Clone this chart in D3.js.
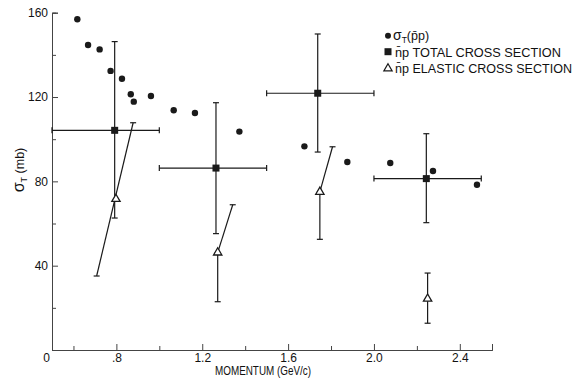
<!DOCTYPE html>
<html>
<head>
<meta charset="utf-8">
<script src="https://cdn.jsdelivr.net/npm/d3@7"></script>
<style>
  body { margin: 0; background: #fff; }
  svg { display: block; }
  text { font-family: "Liberation Sans", Arial, sans-serif; fill: #111; }
</style>
</head>
<body>
<div id="chart"></div>
<script>
// sigma_T (pbar p) points
const circleP = [0.618, 0.668, 0.722, 0.773, 0.826, 0.867, 0.881, 0.961, 1.067, 1.166, 1.373, 1.676, 1.876, 2.076, 2.275, 2.480];
const circleSigma = [156.9, 144.7, 142.6, 132.4, 128.7, 121.3, 117.8, 120.5, 113.7, 112.4, 103.6, 96.6, 89.2, 88.7, 84.9, 78.4];

// nbar p total cross section
const totalP = [0.792, 1.264, 1.738, 2.244];
const totalSigma = [104.2, 86.3, 121.8, 81.3];
const totalLow = [62.6, 55.2, 93.9, 60.4];
const totalHigh = [146.3, 117.3, 149.9, 102.6];
const binLow = [0.5, 1.0, 1.5, 2.0];
const binHigh = [1.0, 1.5, 2.0, 2.5];

// nbar p elastic cross section
const elasticP = [0.798, 1.272, 1.748, 2.25];
const elasticSigma = [71.6, 46.2, 75.0, 24.3];
const elasticLow = [null, 22.9, 52.5, 12.7];
const elasticHigh = [null, 46.2, 75.0, 36.5];
// slanted segments [p1, sigma1, p2, sigma2]
const elasticSlant = [[0.708, 35.1, 0.878, 107.8], [1.272, 46.2, 1.342, 68.9], [1.748, 75.0, 1.807, 96.4], null];

const xMajor = [0.8, 1.2, 1.6, 2.0, 2.4];
const xMajorLabels = [".8", "1.2", "1.6", "2.0", "2.4"];
const xMinor = [0.6, 1.0, 1.4, 1.8, 2.2];
const yMajor = [40, 80, 120, 160];
const yMinor = [20, 60, 100, 140];

const W = 577, H = 381;
const svg = d3.select("#chart").append("svg").attr("width", W).attr("height", H);

const x = d3.scaleLinear().domain([0.5, 2.55]).range([52, 492]);
const y = d3.scaleLinear().domain([0, 160]).range([350, 12.7]);

const ink = "#1a1a1a";

// axes
svg.append("g").attr("transform", `translate(0,${y(0)})`)
  .call(d3.axisBottom(x).tickValues(xMajor).tickSize(-6).tickPadding(3)
    .tickFormat((d, i) => xMajorLabels[i]));
svg.append("g").attr("transform", `translate(0,${y(0)})`)
  .call(d3.axisBottom(x).tickValues(xMinor).tickSize(-4).tickFormat(""));
svg.append("g").attr("transform", `translate(${x(0.5)},0)`)
  .call(d3.axisLeft(y).tickValues(yMajor).tickSize(-6).tickPadding(4));
svg.append("g").attr("transform", `translate(${x(0.5)},0)`)
  .call(d3.axisLeft(y).tickValues(yMinor).tickSize(-4).tickFormat(""));

svg.selectAll(".domain").attr("stroke", "#444").attr("stroke-width", 1);
svg.selectAll(".tick line").attr("stroke", "#444");
svg.selectAll(".tick text").attr("font-size", 12).attr("fill", "#222")
  .attr("font-family", "Liberation Sans, Arial, sans-serif");

// origin label
svg.append("text").attr("x", x(0.5) - 2).attr("y", y(0) + 12)
  .attr("text-anchor", "end").attr("font-size", 12).attr("fill", "#222").text("0");

// axis titles
svg.append("text").attr("x", 215).attr("y", 375).attr("font-size", 13.5)
  .attr("textLength", 96).attr("lengthAdjust", "spacingAndGlyphs").text("MOMENTUM (GeV/c)");

const yl = svg.append("text").attr("transform", "translate(24,170) rotate(-90)")
  .attr("text-anchor", "middle").attr("font-size", 12.5);
yl.append("tspan").attr("font-size", 16).text("σ");
yl.append("tspan").attr("font-size", 9).attr("dy", 3).text("T");
yl.append("tspan").attr("dy", -3).text(" (mb)");

const g = svg.append("g").attr("stroke", ink).attr("stroke-width", 1.2).attr("fill", "none");
const cap = 3;

function vbar(px, lo, hi) {
  g.append("line").attr("x1", x(px)).attr("x2", x(px)).attr("y1", y(lo)).attr("y2", y(hi));
  [lo, hi].forEach(v => g.append("line").attr("x1", x(px) - cap).attr("x2", x(px) + cap)
    .attr("y1", y(v)).attr("y2", y(v)));
}

// total cross section bars
totalP.forEach((p, i) => {
  vbar(p, totalLow[i], totalHigh[i]);
  const yy = y(totalSigma[i]);
  g.append("line").attr("x1", x(binLow[i])).attr("x2", x(binHigh[i])).attr("y1", yy).attr("y2", yy);
  [binLow[i], binHigh[i]].forEach(b => g.append("line").attr("x1", x(b)).attr("x2", x(b))
    .attr("y1", yy - cap).attr("y2", yy + cap));
});

// elastic bars
elasticP.forEach((p, i) => {
  if (elasticLow[i] !== null) vbar(p, elasticLow[i], elasticHigh[i]);
  const s = elasticSlant[i];
  if (s) {
    g.append("line").attr("x1", x(s[0])).attr("y1", y(s[1])).attr("x2", x(s[2])).attr("y2", y(s[3]));
    const ends = i === 0 ? [[s[0], s[1]], [s[2], s[3]]] : [[s[2], s[3]]];
    ends.forEach(e => g.append("line").attr("x1", x(e[0]) - cap).attr("x2", x(e[0]) + cap)
      .attr("y1", y(e[1])).attr("y2", y(e[1])));
  }
});

// markers
svg.append("g").selectAll("circle").data(circleP).join("circle")
  .attr("cx", d => x(d)).attr("cy", (d, i) => y(circleSigma[i])).attr("r", 3.2).attr("fill", ink);

svg.append("g").selectAll("rect").data(totalP).join("rect")
  .attr("x", d => x(d) - 3.5).attr("y", (d, i) => y(totalSigma[i]) - 3.5)
  .attr("width", 7).attr("height", 7).attr("fill", ink);

const tri = d3.symbol().type(d3.symbolTriangle).size(30);
svg.append("g").selectAll("path").data(elasticP).join("path")
  .attr("transform", (d, i) => `translate(${x(d)},${y(elasticSigma[i])})`)
  .attr("d", tri).attr("fill", "#fff").attr("stroke", ink).attr("stroke-width", 1.3);

// legend
const lg = svg.append("g");
lg.append("circle").attr("cx", 388).attr("cy", 35.7).attr("r", 3).attr("fill", ink);
const l1 = lg.append("text").attr("x", 393).attr("y", 40).attr("font-size", 12.5);
l1.append("tspan").attr("font-size", 14).text("σ");
l1.append("tspan").attr("font-size", 8.5).attr("dy", 3).text("T");
l1.append("tspan").attr("dy", -3).text("(p̄p)");

lg.append("rect").attr("x", 384.5).attr("y", 48.2).attr("width", 7).attr("height", 7).attr("fill", ink);
lg.append("text").attr("x", 395).attr("y", 56.5).attr("font-size", 12.5)
  .attr("textLength", 166).attr("lengthAdjust", "spacingAndGlyphs").text("n̄p TOTAL CROSS SECTION");

lg.append("path").attr("transform", "translate(388,68.5)").attr("d", tri)
  .attr("fill", "#fff").attr("stroke", ink).attr("stroke-width", 1.2);
lg.append("text").attr("x", 395).attr("y", 73).attr("font-size", 12.5)
  .attr("textLength", 177).attr("lengthAdjust", "spacingAndGlyphs").text("n̄p ELASTIC CROSS SECTION");
</script>
</body>
</html>
